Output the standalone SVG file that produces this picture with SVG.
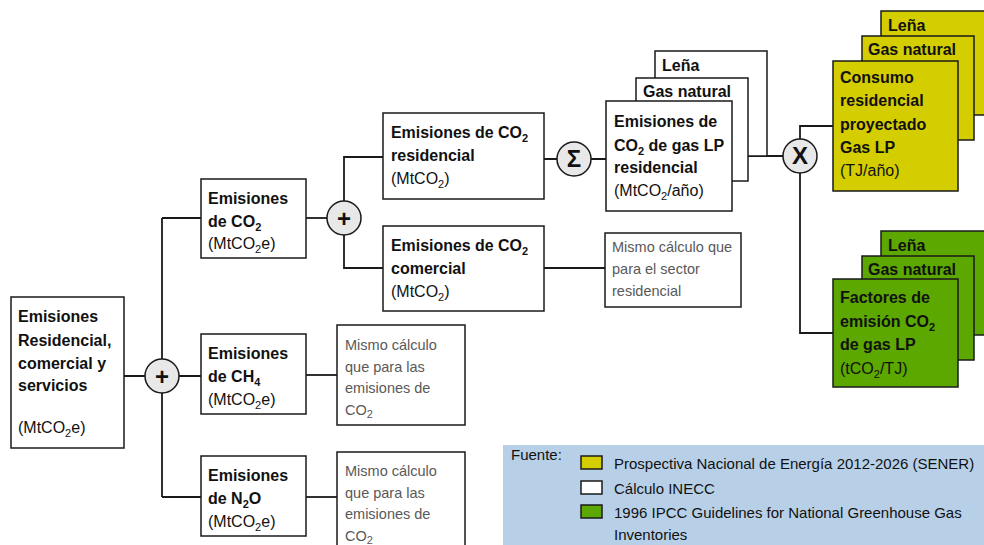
<svg xmlns="http://www.w3.org/2000/svg" width="984" height="545" viewBox="0 0 984 545">
<style>
.bx{fill:#fff;stroke:#1a1a1a;stroke-width:1.5}
.yl{fill:#d4cd00;stroke:#1a1a1a;stroke-width:1.5}
.gr{fill:#5ca700;stroke:#1a1a1a;stroke-width:1.5}
.op{fill:#e8e8e8;stroke:#1a1a1a;stroke-width:1.5}
.ln{fill:none;stroke:#1a1a1a;stroke-width:1.8}
text{font-family:"Liberation Sans",Arial,sans-serif;fill:#111}
.b{font-size:16px;font-weight:bold}
.r{font-size:16px}
.g{font-size:14.5px;fill:#595959}
.l{font-size:15px}
.sym{font-size:24px;font-weight:bold;text-anchor:middle}
.s{font-size:11px}
</style>

<g id="connectors">
<polyline class="ln" points="162,218 162,497"/>
<line class="ln" x1="162" y1="218" x2="201" y2="218"/>
<line class="ln" x1="162" y1="497" x2="201" y2="497"/>
<line class="ln" x1="124" y1="376" x2="201" y2="376"/>
<line class="ln" x1="306" y1="375" x2="337" y2="375"/>
<line class="ln" x1="306" y1="497" x2="337" y2="497"/>
<line class="ln" x1="306" y1="218" x2="327" y2="218"/>
<polyline class="ln" points="383,157 344,157 344,268 383,268"/>
<line class="ln" x1="544" y1="268" x2="605" y2="268"/>
<line class="ln" x1="544" y1="159" x2="606" y2="159"/>
<line class="ln" x1="748" y1="156" x2="783" y2="156"/>
<polyline class="ln" points="800,156 800,126 833,126"/>
<polyline class="ln" points="800,156 800,333 833,333"/>
</g>

<g id="n-total">
<rect class="bx" x="11" y="297" width="113" height="151"/>
<text class="b" x="18" y="322">Emisiones</text>
<text class="b" x="18" y="346">Residencial,</text>
<text class="b" x="18" y="369">comercial y</text>
<text class="b" x="18" y="391">servicios</text>
<text class="r" x="18" y="433">(MtCO<tspan class="s" dy="4">2</tspan><tspan dy="-4">e)</tspan></text>
</g>

<g id="op-plus1">
<circle class="op" cx="162" cy="376" r="17"/>
<text class="sym" x="162" y="385">+</text>
</g>

<g id="n-co2">
<rect class="bx" x="201" y="179" width="105" height="79"/>
<text class="b" x="208" y="204">Emisiones</text>
<text class="b" x="208" y="227">de CO<tspan class="s" dy="4">2</tspan></text>
<text class="r" x="208" y="249">(MtCO<tspan class="s" dy="4">2</tspan><tspan dy="-4">e)</tspan></text>
</g>

<g id="n-ch4">
<rect class="bx" x="201" y="334" width="105" height="80"/>
<text class="b" x="208" y="359">Emisiones</text>
<text class="b" x="208" y="382">de CH<tspan class="s" dy="4">4</tspan></text>
<text class="r" x="208" y="405">(MtCO<tspan class="s" dy="4">2</tspan><tspan dy="-4">e)</tspan></text>
</g>

<g id="n-n2o">
<rect class="bx" x="201" y="456" width="105" height="80"/>
<text class="b" x="208" y="481">Emisiones</text>
<text class="b" x="208" y="504">de N<tspan class="s" dy="4">2</tspan><tspan dy="-4">O</tspan></text>
<text class="r" x="208" y="527">(MtCO<tspan class="s" dy="4">2</tspan><tspan dy="-4">e)</tspan></text>
</g>

<g id="n-ch4-note">
<rect class="bx" x="337" y="325" width="128" height="100"/>
<text class="g" x="345" y="350">Mismo cálculo</text>
<text class="g" x="345" y="372">que para las</text>
<text class="g" x="345" y="393">emisiones de</text>
<text class="g" x="345" y="415">CO<tspan class="s" dy="3">2</tspan></text>
</g>

<g id="n-n2o-note">
<rect class="bx" x="337" y="452" width="128" height="100"/>
<text class="g" x="345" y="476">Mismo cálculo</text>
<text class="g" x="345" y="498">que para las</text>
<text class="g" x="345" y="519">emisiones de</text>
<text class="g" x="345" y="541">CO<tspan class="s" dy="3">2</tspan></text>
</g>

<g id="op-plus2">
<circle class="op" cx="344" cy="218" r="17"/>
<text class="sym" x="344" y="227">+</text>
</g>

<g id="n-res">
<rect class="bx" x="383" y="113" width="161" height="86"/>
<text class="b" x="391" y="138" textLength="137" lengthAdjust="spacingAndGlyphs">Emisiones de CO<tspan class="s" dy="4">2</tspan></text>
<text class="b" x="391" y="161">residencial</text>
<text class="r" x="391" y="184">(MtCO<tspan class="s" dy="4">2</tspan><tspan dy="-4">)</tspan></text>
</g>

<g id="n-com">
<rect class="bx" x="383" y="226" width="161" height="85"/>
<text class="b" x="391" y="251" textLength="137" lengthAdjust="spacingAndGlyphs">Emisiones de CO<tspan class="s" dy="4">2</tspan></text>
<text class="b" x="391" y="274">comercial</text>
<text class="r" x="391" y="297">(MtCO<tspan class="s" dy="4">2</tspan><tspan dy="-4">)</tspan></text>
</g>

<g id="n-com-note">
<rect class="bx" x="605" y="233" width="136" height="74"/>
<text class="g" x="612" y="252">Mismo cálculo que</text>
<text class="g" x="612" y="274">para el sector</text>
<text class="g" x="612" y="296">residencial</text>
</g>

<g id="op-sum">
<circle class="op" cx="574" cy="159" r="17"/>
<text class="sym" x="574" y="167">Σ</text>
</g>

<g id="n-emis-stack">
<rect class="bx" x="655" y="51" width="112" height="105"/>
<text class="b" x="662" y="71">Leña</text>
<rect class="bx" x="636" y="78" width="112" height="103"/>
<text class="b" x="643" y="97">Gas natural</text>
<rect class="bx" x="606" y="101" width="126" height="110"/>
<text class="b" x="614" y="127">Emisiones de</text>
<text class="b" x="614" y="151">CO<tspan class="s" dy="4">2</tspan><tspan dy="-4"> de gas LP</tspan></text>
<text class="b" x="614" y="173">residencial</text>
<text class="r" x="614" y="196">(MtCO<tspan class="s" dy="4">2</tspan><tspan dy="-4">/año)</tspan></text>
</g>

<g id="op-mult">
<circle class="op" cx="800" cy="156" r="17"/>
<text class="sym" x="800" y="164">X</text>
</g>

<g id="n-consumo-stack">
<rect class="yl" x="881" y="11" width="110" height="104"/>
<text class="b" x="888" y="31">Leña</text>
<rect class="yl" x="862" y="36" width="112" height="104"/>
<text class="b" x="868" y="55">Gas natural</text>
<rect class="yl" x="833" y="61" width="125" height="130"/>
<text class="b" x="840" y="83">Consumo</text>
<text class="b" x="840" y="106">residencial</text>
<text class="b" x="840" y="130">proyectado</text>
<text class="b" x="840" y="153">Gas LP</text>
<text class="r" x="840" y="176">(TJ/año)</text>
</g>

<g id="n-factores-stack">
<rect class="gr" x="881" y="231" width="110" height="104"/>
<text class="b" x="888" y="251">Leña</text>
<rect class="gr" x="862" y="256" width="112" height="104"/>
<text class="b" x="868" y="275">Gas natural</text>
<rect class="gr" x="833" y="279" width="125" height="108"/>
<text class="b" x="840" y="303">Factores de</text>
<text class="b" x="840" y="327">emisión CO<tspan class="s" dy="4">2</tspan></text>
<text class="b" x="840" y="350">de gas LP</text>
<text class="r" x="840" y="374">(tCO<tspan class="s" dy="4">2</tspan><tspan dy="-4">/TJ)</tspan></text>
</g>

<g id="legend">
<rect x="503" y="445" width="485" height="105" fill="#b7d0e8"/>
<text class="l" x="511" y="460">Fuente:</text>
<rect class="yl" x="581" y="456" width="21" height="13"/>
<text class="l" x="614" y="469">Prospectiva Nacional de Energía 2012-2026 (SENER)</text>
<rect class="bx" x="581" y="481" width="21" height="13"/>
<text class="l" x="614" y="494">Cálculo INECC</text>
<rect class="gr" x="581" y="505" width="21" height="13"/>
<text class="l" x="614" y="518">1996 IPCC Guidelines for National Greenhouse Gas</text>
<text class="l" x="614" y="540">Inventories</text>
</g>
</svg>
